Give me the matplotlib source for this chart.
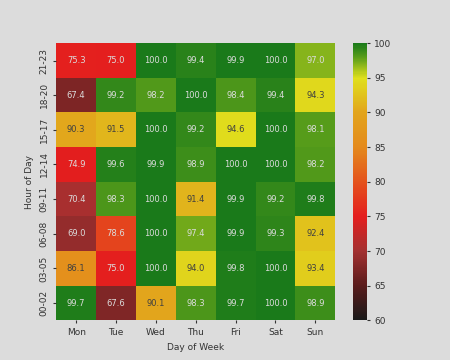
import matplotlib
matplotlib.use("Agg")
import matplotlib.pyplot as plt
from matplotlib.colors import LinearSegmentedColormap
import seaborn as sns
import numpy as np

days = ['Mon', 'Tue', 'Wed', 'Thu', 'Fri', 'Sat', 'Sun']
hours = ['21-23', '18-20', '15-17', '12-14', '09-11', '06-08', '03-05', '00-02']

# uptime % per hour block (rows, top to bottom) and day (columns)
uptime = np.array([
    [75.3, 75.0, 100.0, 99.4, 99.9, 100.0, 97.0],
    [67.4, 99.2, 98.2, 100.0, 98.4, 99.4, 94.3],
    [90.3, 91.5, 100.0, 99.2, 94.6, 100.0, 98.1],
    [74.9, 99.6, 99.9, 98.9, 100.0, 100.0, 98.2],
    [70.4, 98.3, 100.0, 91.4, 99.9, 99.2, 99.8],
    [69.0, 78.6, 100.0, 97.4, 99.9, 99.3, 92.4],
    [86.1, 75.0, 100.0, 94.0, 99.8, 100.0, 93.4],
    [99.7, 67.6, 90.1, 98.3, 99.7, 100.0, 98.9],
])

# colormap from 60 (black) through red/orange/yellow to green at 100
stops = [(0.0, '#1a1a1a'), (0.125, '#5a1c1c'), (0.25, '#a33030'), (0.375, '#e41e1e'),
         (0.5, '#e4521c'), (0.625, '#e48a1c'), (0.75, '#e2a41c'), (0.875, '#e0e01c'),
         (0.95, '#5a9e1a'), (1.0, '#1a7a1a')]
cmap = LinearSegmentedColormap.from_list('uptime', stops)

fig = plt.figure(figsize=(4.5, 3.6), dpi=100, facecolor='#dcdcdc')
ax = fig.add_subplot(111)
ax.set_facecolor('#dcdcdc')

sns.heatmap(uptime, ax=ax, cmap=cmap, vmin=60, vmax=100, annot=True, fmt='.1f',
            annot_kws={'fontsize': 6}, xticklabels=days, yticklabels=hours)

# dark text on the orange/yellow cells, light grey elsewhere
for t in ax.texts:
    v = float(t.get_text())
    if 80 < v < 96:
        t.set_color('#404040')
    else:
        t.set_color('#dcdcdc')

ax.set_xlabel('Day of Week', fontsize=6.5, color='#333333')
ax.set_ylabel('Hour of Day', fontsize=6.5, color='#333333')
ax.tick_params(labelsize=6.5, colors='#333333', length=2)
plt.setp(ax.get_yticklabels(), rotation=90, va='center')

cbar = ax.collections[0].colorbar
cbar.ax.tick_params(labelsize=6.5, colors='#333333', length=2)

fig.savefig('out.png', dpi=100, facecolor=fig.get_facecolor())
